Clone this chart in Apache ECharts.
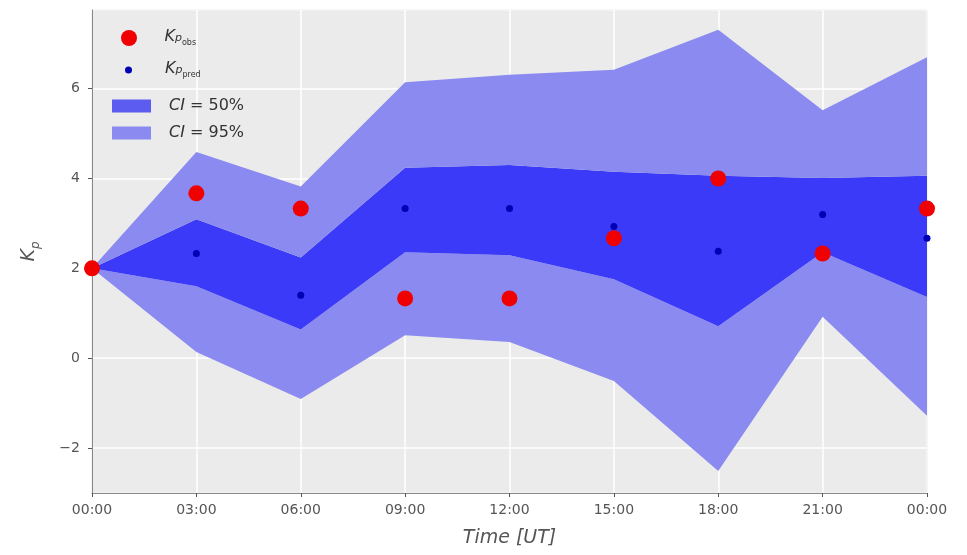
<!DOCTYPE html>
<html>
<head>
<meta charset="utf-8">
<script src="https://cdn.jsdelivr.net/npm/echarts@6/dist/echarts.min.js"></script>
<style>
  html, body { margin: 0; padding: 0; background: #fff; }
  #chart { width: 967px; height: 555px; }
</style>
</head>
<body>
<div id="chart"></div>
<script>
  // 时间刻度
  const tickLabels = ['00:00', '03:00', '06:00', '09:00', '12:00', '15:00', '18:00', '21:00', '00:00'];
  // 观测值 / 预测值
  const kpObs = [2.00, 3.67, 3.33, 1.33, 1.33, 2.67, 4.00, 2.33, 3.33];
  const kpPred = [2.00, 2.33, 1.40, 3.33, 3.33, 2.93, 2.38, 3.20, 2.67];
  // 置信区间
  const ci50Low = [2.00, 1.60, 0.64, 2.36, 2.29, 1.76, 0.71, 2.36, 1.36];
  const ci50High = [2.00, 3.09, 2.24, 4.24, 4.30, 4.15, 4.06, 4.01, 4.06];
  const ci95Low = [2.00, 0.14, -0.91, 0.51, 0.36, -0.51, -2.51, 0.92, -1.28];
  const ci95High = [2.00, 4.59, 3.82, 6.14, 6.31, 6.42, 7.31, 5.52, 6.70];

  const lightBlue = '#8a8af0';
  const darkBlue = '#3a3af8';
  const font = 'DejaVu Sans';

  // 堆叠用的差值
  const diff = (a, b) => a.map((v, i) => +(v - b[i]).toFixed(3));

  const kpRich = {
    k: {fontFamily: font, fontStyle: 'italic', fontSize: 16, color: '#333', verticalAlign: 'top', lineHeight: 18},
    p: {fontFamily: font, fontStyle: 'italic', fontSize: 11, color: '#333', verticalAlign: 'bottom', lineHeight: 11, padding: [10, 0, 3, 0]},
    s: {fontFamily: font, fontSize: 8, color: '#333', verticalAlign: 'bottom', lineHeight: 8, padding: [16, 0, 0, 0]},
    i: {fontFamily: font, fontStyle: 'italic', fontSize: 16, color: '#333'},
    n: {fontFamily: font, fontSize: 16, color: '#333'}
  };

  const legendFormatter = function (name) {
    if (name === 'Kp_obs') return '{k|K}{p|p}{s|obs}';
    if (name === 'Kp_pred') return '{k|K}{p|p}{s|pred}';
    if (name === 'CI = 50%') return '{i|CI}{n| = 50%}';
    return '{i|CI}{n| = 95%}';
  };

  const areaSeries = (name, data, color) => ({
    name: name,
    type: 'line',
    stack: 'ci',
    stackStrategy: 'all',
    data: data,
    symbol: 'none',
    showSymbol: false,
    silent: true,
    lineStyle: {width: 0, opacity: 0},
    itemStyle: {color: color || 'transparent'},
    areaStyle: color ? {color: color, opacity: 1} : undefined,
    z: 2
  });

  const myChart = echarts.init(document.getElementById('chart'));
  const option = {
    animation: false,
    backgroundColor: '#fff',
    grid: {
      left: 92,
      right: 40,
      top: 10,
      bottom: 62,
      show: true,
      backgroundColor: '#ebebeb',
      borderColor: '#b0b0b0',
      borderWidth: 1
    },
    legend: [
      {
        data: ['Kp_obs'],
        left: 116, top: 18,
        itemWidth: 39, itemHeight: 16,
        icon: 'circle',
        formatter: legendFormatter,
        textStyle: {rich: kpRich, padding: [0, 0, 0, 11]},
        selectedMode: false
      },
      {
        data: ['Kp_pred'],
        left: 120, top: 50,
        itemWidth: 39, itemHeight: 7,
        icon: 'circle',
        formatter: legendFormatter,
        textStyle: {rich: kpRich, padding: [0, 0, 0, 12]},
        selectedMode: false
      },
      {
        data: [
          {name: 'CI = 50%', itemStyle: {color: '#5c5cf0'}},
          {name: 'CI = 95%', itemStyle: {color: lightBlue}}
        ],
        orient: 'vertical',
        left: 107, top: 93,
        itemWidth: 39, itemHeight: 13,
        itemGap: 11,
        icon: 'rect',
        formatter: legendFormatter,
        textStyle: {rich: kpRich, padding: [0, 0, 0, 13]},
        selectedMode: false
      }
    ],
    xAxis: {
      type: 'category',
      data: tickLabels,
      boundaryGap: false,
      name: 'Time [UT]',
      nameLocation: 'middle',
      nameGap: 36,
      nameTextStyle: {fontFamily: font, fontStyle: 'italic', fontSize: 19, color: '#555'},
      axisLine: {onZero: false, lineStyle: {color: '#888', width: 1}},
      axisTick: {show: true, length: 4, lineStyle: {color: '#555'}},
      axisLabel: {fontFamily: font, fontSize: 14, color: '#555', margin: 10},
      splitLine: {show: true, lineStyle: {color: '#fff', width: 1.5}}
    },
    yAxis: {
      type: 'value',
      min: -3,
      max: 7.75,
      splitNumber: 5,
      name: '{k|K}{p|p}',
      nameLocation: 'middle',
      nameGap: 50,
      nameRotate: 90,
      nameTextStyle: {
        rich: {
          k: {fontFamily: font, fontStyle: 'italic', fontSize: 19, color: '#555', verticalAlign: 'top', lineHeight: 22},
          p: {fontFamily: font, fontStyle: 'italic', fontSize: 12, color: '#555', verticalAlign: 'bottom', lineHeight: 12, padding: [14, 0, 0, 0]}
        }
      },
      axisLine: {show: true, onZero: false, lineStyle: {color: '#888', width: 1}},
      axisTick: {show: true, length: 4, lineStyle: {color: '#555'}},
      axisLabel: {
        fontFamily: font, fontSize: 14, color: '#555', margin: 12,
        showMinLabel: false, showMaxLabel: false,
        formatter: v => (v < 0 ? '\u2212' + (-v) : '' + v)
      },
      splitLine: {show: true, lineStyle: {color: '#fff', width: 1.5}}
    },
    series: [
      areaSeries('base', ci95Low, null),
      areaSeries('CI = 95%', diff(ci50Low, ci95Low), lightBlue),
      areaSeries('CI = 50%', diff(ci50High, ci50Low), darkBlue),
      areaSeries('ci95top', diff(ci95High, ci50High), lightBlue),
      {
        name: 'Kp_pred',
        type: 'scatter',
        data: kpPred,
        symbol: 'circle',
        symbolSize: 7,
        itemStyle: {color: '#0000b4', opacity: 1},
        z: 4
      },
      {
        name: 'Kp_obs',
        type: 'scatter',
        data: kpObs,
        symbol: 'circle',
        symbolSize: 16,
        itemStyle: {color: '#f00000', opacity: 1},
        z: 5
      }
    ]
  };
  myChart.setOption(option);
</script>
</body>
</html>
